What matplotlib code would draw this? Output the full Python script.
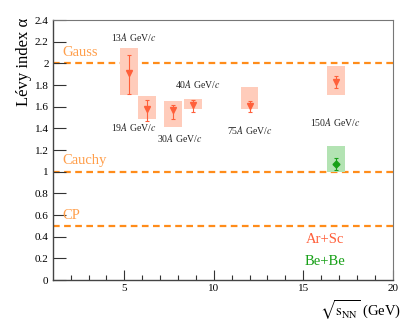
import matplotlib
matplotlib.use("Agg")
import matplotlib.pyplot as plt
from matplotlib.patches import Rectangle

plt.rcParams['font.family'] = ['Liberation Serif', 'DejaVu Serif']
plt.rcParams['mathtext.fontset'] = 'stix'

# Ar+Sc data
x_arsc = [5.25, 6.25, 7.7, 8.85, 12.0, 16.85]
alpha_arsc = [1.91, 1.575, 1.57, 1.615, 1.61, 1.83]
stat_lo_arsc = [1.72, 1.47, 1.49, 1.55, 1.55, 1.775]
stat_hi_arsc = [2.08, 1.66, 1.62, 1.66, 1.65, 1.88]
sys_lo_arsc = [1.705, 1.49, 1.415, 1.575, 1.58, 1.71]
sys_hi_arsc = [2.145, 1.70, 1.655, 1.67, 1.78, 1.975]

# Be+Be data
x_bebe = [16.85]
alpha_bebe = [1.07]
stat_lo_bebe = [1.015]
stat_hi_bebe = [1.123]
sys_lo_bebe = [0.995]
sys_hi_bebe = [1.24]

beam_labels = ["13$\\mathit{A}$ GeV/$\\mathit{c}$", "19$\\mathit{A}$ GeV/$\\mathit{c}$",
               "30$\\mathit{A}$ GeV/$\\mathit{c}$", "40$\\mathit{A}$ GeV/$\\mathit{c}$",
               "75$\\mathit{A}$ GeV/$\\mathit{c}$", "150$\\mathit{A}$ GeV/$\\mathit{c}$"]
label_pos = [(5.54, 2.24), (5.54, 1.41), (8.1, 1.31), (9.1, 1.81), (12.0, 1.385), (16.77, 1.46)]

ref_names = ["Gauss", "Cauchy", "CP"]
ref_values = [2.0, 1.0, 0.5]

c_arsc = '#ff5f3a'
c_arsc_box = '#ffccbb'
c_bebe = '#17a017'
c_bebe_box = '#b3e3b3'
c_line = '#ff8c1a'
c_ref_text = '#ff9e4a'

fig = plt.figure(figsize=(4.09, 3.30), dpi=100)
ax = fig.add_axes([0.129, 0.1515, 0.831, 0.7875])

ax.set_xlim(1, 20)
ax.set_ylim(0, 2.4)

for name, v in zip(ref_names, ref_values):
    ax.axhline(v, color=c_line, lw=1.6, ls=(0, (3, 2)), zorder=1)
    ax.text(1.55, v + 0.1, name, color=c_ref_text, fontsize=10.5, va='center', ha='left')

def draw(xs, a, slo, shi, ylo, yhi, col, boxcol, marker, ms):
    for x, lo, hi in zip(xs, ylo, yhi):
        ax.add_patch(Rectangle((x - 0.5, lo), 1.0, hi - lo, facecolor=boxcol,
                               edgecolor='none', zorder=2))
    err = [[v - l for v, l in zip(a, slo)], [h - v for v, h in zip(a, shi)]]
    ax.errorbar(xs, a, yerr=err, fmt=marker, color=col, ms=ms, capsize=1.5,
                elinewidth=0.8, capthick=0.8, zorder=3)

draw(x_arsc, alpha_arsc, stat_lo_arsc, stat_hi_arsc, sys_lo_arsc, sys_hi_arsc,
     c_arsc, c_arsc_box, 'v', 5)
draw(x_bebe, alpha_bebe, stat_lo_bebe, stat_hi_bebe, sys_lo_bebe, sys_hi_bebe,
     c_bebe, c_bebe_box, 'D', 3.5)

for lab, (lx, ly) in zip(beam_labels, label_pos):
    ax.text(lx, ly, lab, fontsize=7, ha='center', va='center', color='#222222')

ax.text(16.2, 0.37, "Ar+Sc", color=c_arsc, fontsize=10.5, ha='center', va='center')
ax.text(16.2, 0.17, "Be+Be", color=c_bebe, fontsize=10.5, ha='center', va='center')

ax.set_xticks([5, 10, 15, 20])
ax.set_xticks(range(2, 20), minor=True)
ax.set_yticks([0, 0.2, 0.4, 0.6, 0.8, 1.0, 1.2, 1.4, 1.6, 1.8, 2.0, 2.2, 2.4])
ax.set_yticklabels(['0', '0.2', '0.4', '0.6', '0.8', '1', '1.2', '1.4', '1.6',
                    '1.8', '2', '2.2', '2.4'])
ax.tick_params(axis='both', which='major', direction='in', length=7, width=0.8,
               labelsize=8, color='#333333', pad=3)
ax.tick_params(axis='x', which='minor', direction='in', length=3.5, width=0.8,
               color='#333333')
ax.tick_params(axis='y', which='major', length=9)

for s in ['left', 'bottom']:
    ax.spines[s].set_color('#444444')
    ax.spines[s].set_linewidth(1.0)
for s in ['top', 'right']:
    ax.spines[s].set_color('#777777')
    ax.spines[s].set_linewidth(0.8)

fig.text(0.98, 0.025, "$\\sqrt{\\mathrm{s}_{\\mathrm{NN}}}$ (GeV)", fontsize=10.5,
         ha='right', va='bottom')
fig.text(0.058, 0.945, "Lévy index α", fontsize=12, rotation=90, ha='center', va='top')

plt.savefig("out.png", dpi=100)
